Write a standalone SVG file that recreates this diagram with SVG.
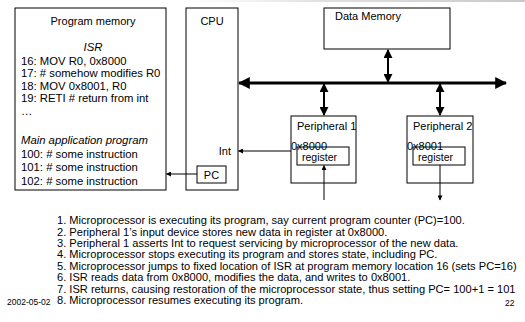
<svg xmlns="http://www.w3.org/2000/svg" width="525" height="322" viewBox="0 0 525 322">
  <style>
    text { font-family: "Liberation Sans", Arial, sans-serif; fill: #000; }
    .box { fill: #fff; stroke: #000; stroke-width: 1; }
    .reg { fill: none; stroke: #000; stroke-width: 1; }
    .lbl { font-size: 11px; }
    .code { font-size: 11.3px; }
    .it { font-style: italic; }
    .step { font-size: 11.1px; }
    .tiny { font-size: 8.5px; }
    .bus { stroke: #000; stroke-width: 3; fill: none; }
    .dbl { stroke: #000; stroke-width: 2; fill: none; }
    .thin { stroke: #000; stroke-width: 1; fill: none; }
  </style>
  <defs>
    <marker id="bigHead" viewBox="0 0 10 10" refX="9" refY="5" markerWidth="4" markerHeight="4" orient="auto-start-reverse" markerUnits="strokeWidth">
      <path d="M0,0 L10,5 L0,10 z" fill="#000"/>
    </marker>
    <marker id="midHead" viewBox="0 0 10 10" refX="9" refY="5" markerWidth="4.5" markerHeight="4.5" orient="auto-start-reverse" markerUnits="strokeWidth">
      <path d="M0,0 L10,5 L0,10 z" fill="#000"/>
    </marker>
    <marker id="smallHead" viewBox="0 0 10 10" refX="9" refY="5" markerWidth="6" markerHeight="5" orient="auto" markerUnits="strokeWidth">
      <path d="M0,0 L10,5 L0,10 z" fill="#000"/>
    </marker>
    <linearGradient id="topBand" x1="0" y1="0" x2="1" y2="0">
      <stop offset="0" stop-color="#ddd" stop-opacity="0"/>
      <stop offset="0.4" stop-color="#ccc" stop-opacity="0.6"/>
      <stop offset="1" stop-color="#bbb" stop-opacity="0.8"/>
    </linearGradient>
  </defs>

  <rect x="0" y="0" width="525" height="322" fill="#fff"/>
  <rect x="180" y="0" width="345" height="2" fill="url(#topBand)"/>

  <!-- Program memory -->
  <g id="program-memory">
    <rect class="box" x="15" y="8" width="151" height="182"/>
    <text class="lbl" x="93" y="24.5" text-anchor="middle">Program memory</text>
    <text class="code it" x="93" y="50.5" text-anchor="middle">ISR</text>
    <text class="code" x="21" y="64.5">16: MOV R0, 0x8000</text>
    <text class="code" x="21" y="77">17: # somehow modifies R0</text>
    <text class="code" x="21" y="89.5">18: MOV 0x8001, R0</text>
    <text class="code" x="21" y="102">19: RETI # return from int</text>
    <text class="code" x="21" y="115">…</text>
    <text class="code it" x="21" y="144">Main application program</text>
    <text class="code" x="21" y="158">100: # some instruction</text>
    <text class="code" x="21" y="171">101: # some instruction</text>
    <text class="code" x="21" y="185">102: # some instruction</text>
  </g>

  <!-- CPU -->
  <g id="cpu">
    <rect class="box" x="186" y="8" width="52" height="182"/>
    <text class="lbl" x="212" y="25" text-anchor="middle">CPU</text>
    <text class="lbl" x="231" y="154.5" text-anchor="end">Int</text>
  </g>
  <g id="pc">
    <rect class="box" x="197" y="166" width="29" height="17"/>
    <text class="lbl" x="211.5" y="178.5" text-anchor="middle">PC</text>
  </g>

  <!-- Data memory -->
  <g id="data-memory">
    <rect class="box" x="324" y="8" width="126" height="41"/>
    <text class="lbl" x="335" y="19.5">Data Memory</text>
  </g>

  <!-- Peripherals -->
  <g id="peripheral-1">
    <rect class="box" x="291" y="116" width="65" height="67"/>
    <text class="lbl" x="297" y="130">Peripheral 1</text>
    <text class="lbl" x="291" y="149.5">0x8000</text>
    <rect class="reg" x="297" y="147" width="52" height="18"/>
    <text class="lbl" x="302" y="161" style="font-size:10.5px">register</text>
  </g>
  <g id="peripheral-2">
    <rect class="box" x="407" y="116" width="66" height="67"/>
    <text class="lbl" x="413" y="130">Peripheral 2</text>
    <text class="lbl" x="407" y="149.5">0x8001</text>
    <rect class="reg" x="413" y="147" width="52" height="18"/>
    <text class="lbl" x="418" y="161" style="font-size:10.5px">register</text>
  </g>

  <!-- Connectors -->
  <g id="connectors">
    <line class="bus" x1="239" y1="83" x2="506" y2="83" marker-start="url(#bigHead)" marker-end="url(#bigHead)"/>
    <line class="dbl" x1="388" y1="50" x2="388" y2="82" marker-start="url(#midHead)" marker-end="url(#midHead)"/>
    <line class="dbl" x1="324" y1="84" x2="324" y2="115" marker-start="url(#midHead)" marker-end="url(#midHead)"/>
    <line class="dbl" x1="440" y1="84" x2="440" y2="115" marker-start="url(#midHead)" marker-end="url(#midHead)"/>
    <line class="thin" x1="291" y1="151" x2="238.5" y2="151" marker-end="url(#smallHead)"/>
    <line class="thin" x1="197" y1="174" x2="166.5" y2="174" marker-end="url(#smallHead)"/>
    <line class="thin" x1="324" y1="200" x2="324" y2="165.5" marker-end="url(#smallHead)"/>
    <line class="thin" x1="440" y1="165" x2="440" y2="200" marker-end="url(#smallHead)"/>
  </g>

  <!-- Step list -->
  <g id="steps">
    <text class="step" x="57" y="224">1. Microprocessor is executing its program, say current program counter (PC)=100.</text>
    <text class="step" x="57" y="235.5">2. Peripheral 1’s input device stores new data in register at 0x8000.</text>
    <text class="step" x="57" y="247">3. Peripheral 1 asserts Int to request servicing by microprocessor of the new data.</text>
    <text class="step" x="57" y="258">4. Microprocessor stops executing its program and stores state, including PC.</text>
    <text class="step" x="57" y="269.5">5. Microprocessor jumps to fixed location of ISR at program memory location 16 (sets PC=16)</text>
    <text class="step" x="57" y="281">6. ISR reads data from 0x8000, modifies the data, and writes to 0x8001.</text>
    <text class="step" x="57" y="292.5">7. ISR returns, causing restoration of the microprocessor state, thus setting PC= 100+1 = 101</text>
    <text class="step" x="57" y="304">8. Microprocessor resumes executing its program.</text>
  </g>
  <text class="tiny" x="7" y="305">2002-05-02</text>
  <text class="tiny" x="505" y="306">22</text>
</svg>
